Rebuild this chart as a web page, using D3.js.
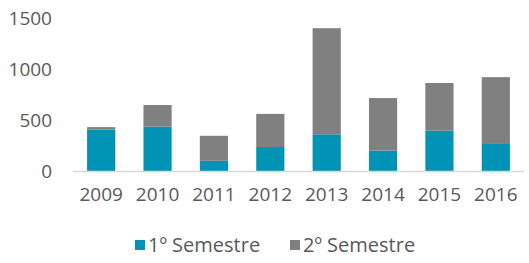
<!DOCTYPE html>
<html>
<head>
<meta charset="utf-8">
<script src="https://cdn.jsdelivr.net/npm/d3@7"></script>
<style>
  body { margin: 0; background: #fff; }
  svg text { font-family: "Open Sans", sans-serif; fill: #595959; }
</style>
</head>
<body>
<div class="chart"></div>
<script>
var width = 529, height = 263;

var years = ['2009', '2010', '2011', '2012', '2013', '2014', '2015', '2016'];
var sem1 = [405, 435, 100, 235, 360, 200, 395, 265];
var sem2 = [25, 212, 245, 325, 1040, 515, 468, 655];
var seriesNames = ['1º Semestre', '2º Semestre'];
var yTicks = [0, 500, 1000, 1500];
var colors = ['#0093b5', '#808080'];

var svg = d3.select('.chart')
  .append('svg')
  .attr('width', width)
  .attr('height', height);

var data = years.map(function(y, i) {
  return { year: y, s1: sem1[i], s2: sem2[i] };
});

var stack = d3.stack().keys(['s1', 's2']);
var layers = stack(data);

var x = d3.scaleBand()
  .domain(years)
  .range([73, 524])
  .paddingInner(0.5)
  .paddingOuter(0.25);

var y = d3.scaleLinear()
  .domain([0, 1500])
  .range([171, 18]);

// bars
svg.selectAll('g.layer')
  .data(layers)
  .enter()
  .append('g')
  .attr('class', 'layer')
  .attr('fill', function(d, i) { return colors[i]; })
  .selectAll('rect')
  .data(function(d) { return d; })
  .enter()
  .append('rect')
  .attr('x', function(d) { return x(d.data.year); })
  .attr('y', function(d) { return y(d[1]); })
  .attr('height', function(d) { return y(d[0]) - y(d[1]); })
  .attr('width', x.bandwidth());

// x axis
var xAxis = svg.append('g')
  .attr('transform', 'translate(0,' + y(0) + ')')
  .call(d3.axisBottom(x).tickSize(0).tickPadding(20));
xAxis.select('.domain').attr('stroke', '#d9d9d9').attr('stroke-width', 1.5);
xAxis.selectAll('text').style('font-size', '19px').attr('dy', '0.5em');

// y axis
var yAxis = svg.append('g')
  .attr('transform', 'translate(52,0)')
  .call(d3.axisLeft(y).tickValues(yTicks).tickFormat(d3.format('d')).tickSize(0).tickPadding(0));
yAxis.select('.domain').remove();
yAxis.selectAll('text').style('font-size', '19px');

// legend
var legend = svg.append('g').attr('transform', 'translate(0,245)');
var legX = [135, 290];
seriesNames.forEach(function(name, i) {
  legend.append('rect')
    .attr('x', legX[i]).attr('y', -5)
    .attr('width', 10).attr('height', 10)
    .attr('fill', colors[i]);
  legend.append('text')
    .attr('x', legX[i] + 13).attr('y', 0)
    .attr('dy', '0.35em')
    .style('font-size', '20px')
    .text(name);
});
</script>
</body>
</html>
